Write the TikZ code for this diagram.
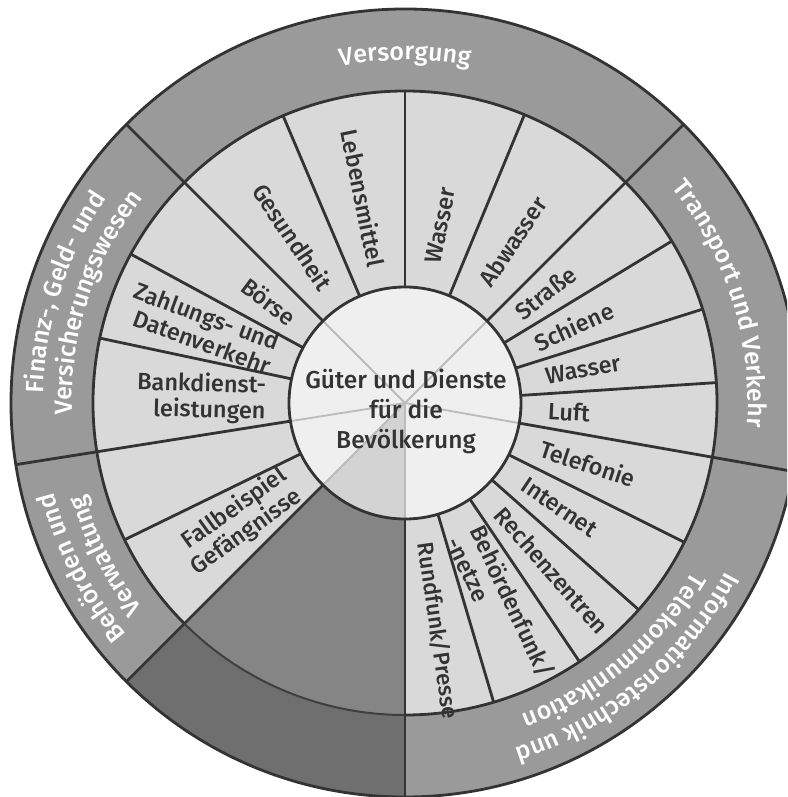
\documentclass[tikz,border=0pt]{standalone}
\usepackage{fontspec}
\setmainfont{Fira Sans}[UprightFont={* Medium}, BoldFont={* Bold}]
\usetikzlibrary{decorations.text}
\definecolor{ringgrau}{HTML}{9A9A9A}
\definecolor{feldgrau}{HTML}{D9D9D9}
\definecolor{mittegrau}{HTML}{EFEFEF}
\definecolor{mittedunkel}{HTML}{D3D3D3}
\definecolor{leerinnen}{HTML}{858585}
\definecolor{leeraussen}{HTML}{6F6F6F}
\definecolor{strich}{HTML}{333333}
\definecolor{hellstrich}{HTML}{BBBBBB}
\newcommand{\ringschrift}{\fontsize{25}{29}\selectfont}
\tikzstyle{speiche} = [draw=strich, line width=2.8pt]
\tikzstyle{hellspeiche} = [draw=hellstrich, line width=1.8pt]
\tikzstyle{feldr} = [inner sep=0pt, anchor=west, align=left, text=strich, font=\fontsize{23.5}{26}\selectfont]
\tikzstyle{feldl} = [inner sep=0pt, anchor=east, align=right, text=strich, font=\fontsize{23.5}{26}\selectfont]
\tikzset{ringtext/.style={decorate, decoration={text along path, text align=center, text color=white, text={|\ringschrift|#1}}}}

\begin{document}
\begin{tikzpicture}[x=1pt, y=1pt]

        \clip (-405,-394) rectangle (382,403);

        %% rings
        \fill[ringgrau] (0,0) circle[radius=394];
        \fill[leeraussen] (0,0) -- (225:394) arc[start angle=225, end angle=270, radius=394] -- cycle;
        \fill[feldgrau] (0,0) circle[radius=312];
        \fill[leerinnen] (0,0) -- (225:312) arc[start angle=225, end angle=270, radius=312] -- cycle;
        \fill[mittegrau] (0,0) circle[radius=116];
        \fill[mittedunkel] (0,0) -- (225:116) arc[start angle=225, end angle=270, radius=116] -- cycle;

        %% middle
        \draw[hellspeiche] (0,0) -- (45:116);
        \draw[hellspeiche] (0,0) -- (135:116);
        \draw[hellspeiche] (0,0) -- (189:116);
        \draw[hellspeiche] (0,0) -- (225:116);
        \draw[hellspeiche] (0,0) -- (270:116);
        \draw[hellspeiche] (0,0) -- (-10:116);

        %% groups
        \draw[speiche] (45:116) -- (45:394);
        \draw[speiche] (135:116) -- (135:394);
        \draw[speiche] (189:116) -- (189:394);
        \draw[speiche] (225:116) -- (225:394);
        \draw[speiche] (270:116) -- (270:394);
        \draw[speiche] (-10:116) -- (-10:394);

        %% fields
        \draw[speiche] (113:116) -- (113:312);
        \draw[speiche] (90:116) -- (90:312);
        \draw[speiche] (67.5:116) -- (67.5:312);
        \draw[speiche] (31.25:116) -- (31.25:312);
        \draw[speiche] (17.5:116) -- (17.5:312);
        \draw[speiche] (3.75:116) -- (3.75:312);
        \draw[speiche] (-26.5:116) -- (-26.5:312);
        \draw[speiche] (-41.5:116) -- (-41.5:312);
        \draw[speiche] (-56:116) -- (-56:312);
        \draw[speiche] (-73.5:116) -- (-73.5:312);
        \draw[speiche] (151.5:116) -- (151.5:312);
        \draw[speiche] (168:116) -- (168:312);
        \draw[speiche] (206:116) -- (206:312);

        \draw[speiche] (0,0) circle[radius=116];
        \draw[speiche] (270:312) arc[start angle=-90, end angle=225, radius=312];
        \draw[draw=strich!85!leerinnen, line width=2pt] (225:312) arc[start angle=225, end angle=270, radius=312];
        \draw[speiche] (0,0) circle[radius=394];

        %% centre
        \node (M) [align=center, text=strich, font=\fontsize{24.5}{30}\selectfont] at (1,-8) {Güter und Dienste\\für die\\Bevölkerung};

        %% labels right
        \node (S1) [feldr, rotate=78.75] at (78.75:143) {Wasser};
        \node (S2) [feldr, rotate=56.25] at (56.25:143) {Abwasser};
        \node (S3) [feldr, rotate=38.1] at (38.1:143) {Straße};
        \node (S4) [feldr, rotate=24.4] at (24.4:143) {Schiene};
        \node (S5) [feldr, rotate=10.6] at (10.6:143) {Wasser};
        \node (S6) [feldr, rotate=-3.1] at (-3.1:143) {Luft};
        \node (S7) [feldr, rotate=-18.25] at (-18.25:143) {Telefonie};
        \node (S8) [feldr, rotate=-34] at (-34:143) {Internet};
        \node (S9) [feldr, rotate=-48.75] at (-48.75:143) {Rechenzentren};
        \node (S10) [feldr, rotate=-64.75] at (-64.75:143) {Behördenfunk/\\-netze};
        \node (S11) [feldr, rotate=-81.75, font=\fontsize{22.5}{26}\selectfont] at (-81.75:141) {Rundfunk/Presse};

        %% labels left
        \node (S12) [feldl, rotate=-78.5] at (101.5:139) {Lebensmittel};
        \node (S13) [feldl, rotate=-56] at (124:139) {Gesundheit};
        \node (S14) [feldl, rotate=-36.75] at (143.25:139) {Börse};
        \node (S15) [feldl, rotate=-20.25] at (159.75:139) {Zahlungs- und\\Datenverkehr};
        \node (S16) [feldl, rotate=-1.5] at (178.5:139) {Bankdienst-\\leistungen};
        \node (S17) [feldl, rotate=35.5] at (215.5:139) {Fallbeispiel\\Gefängnisse};

        %% ring labels
        \path[ringtext=Versorgung] (135:343) arc[start angle=135, end angle=45, radius=343];
        \path[ringtext=Transport und Verkehr] (45:343) arc[start angle=45, end angle=-10, radius=343];
        \path[ringtext=Informationstechnik und] (-10:362) arc[start angle=-10, end angle=-90, radius=362];
        \path[ringtext=Telekommunikation] (-10:333) arc[start angle=-10, end angle=-90, radius=333];
        \path[ringtext=Behörden und] (225:362) arc[start angle=225, end angle=189, radius=362];
        \path[ringtext=Verwaltung] (225:333) arc[start angle=225, end angle=189, radius=333];
        \path[ringtext={Finanz-, Geld- und}] (189:362) arc[start angle=189, end angle=135, radius=362];
        \path[ringtext=Versicherungswesen] (189:333) arc[start angle=189, end angle=135, radius=333];

    \end{tikzpicture}
\end{document}
